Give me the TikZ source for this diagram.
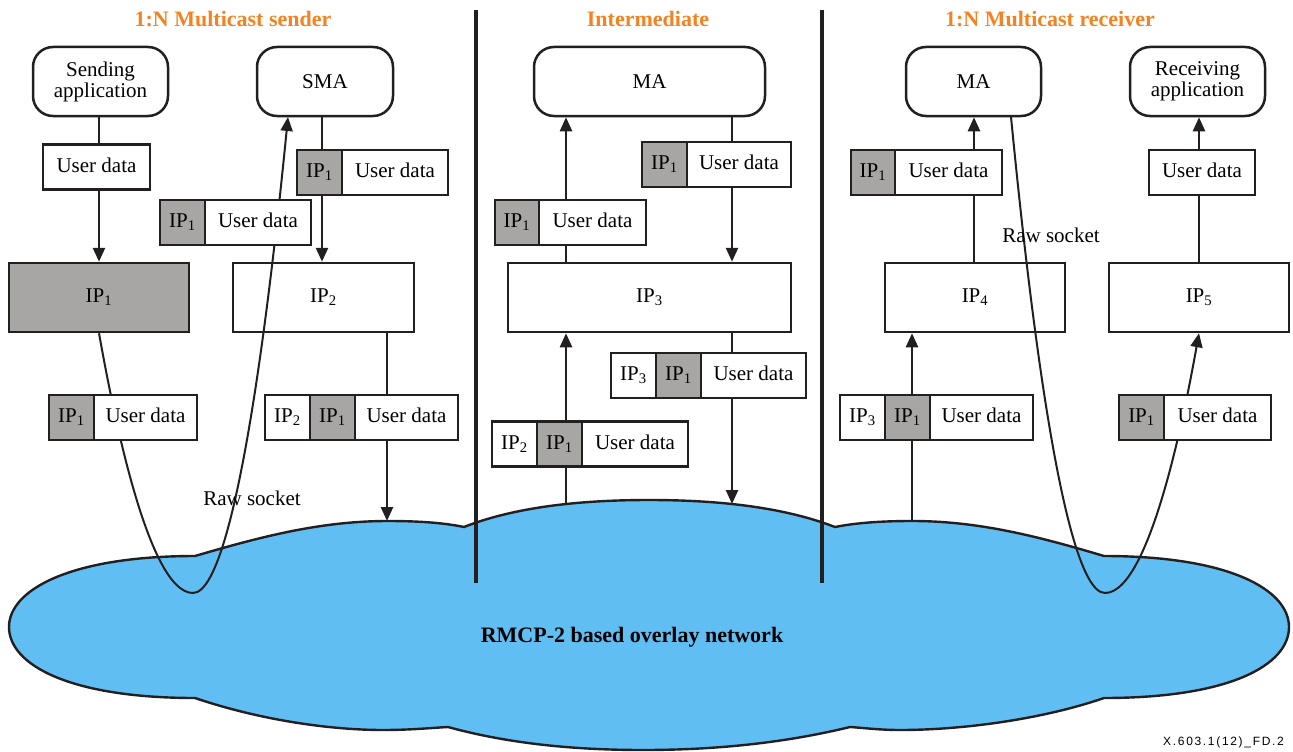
\documentclass[tikz,border=0pt]{standalone}
\usepackage{fontspec}
\setmainfont{Liberation Serif}
\newfontfamily\footfont[LetterSpace=14]{Liberation Sans}
\usetikzlibrary{arrows.meta}
\definecolor{lc}{RGB}{35,31,32}
\definecolor{cg}{RGB}{167,166,164}
\definecolor{cloudc}{RGB}{96,190,242}
\definecolor{orng}{RGB}{245,130,32}
\tikzset{
  ln/.style={draw=lc, line width=2.5pt},
  rbox/.style={ln, rounded corners=20pt, minimum height=69pt, fill=white, align=center, inner sep=0pt, font=\fontsize{21}{23}\selectfont},
  bbox/.style={ln, minimum height=69pt, fill=white, inner sep=0pt, font=\fontsize{21}{23}\selectfont},
  cellw/.style={ln, fill=white, minimum height=45pt, inner sep=0pt, outer sep=0pt, text height=14pt, text depth=4pt, anchor=west, font=\fontsize{21}{23}\selectfont},
  cellg/.style={cellw, fill=cg},
  arr/.style={ln, -{Triangle[length=14pt,width=12pt]}},
  rawc/.style={draw=lc, line width=2pt},
  rawca/.style={rawc, -{Triangle[length=14pt,width=12pt]}},
  ttl/.style={text=orng, font=\bfseries\fontsize{22}{24}\selectfont},
  lbl/.style={font=\fontsize{21}{23}\selectfont, inner sep=0pt},
  sep/.style={draw=lc, line width=4.5pt},
}
\begin{document}
\begin{tikzpicture}[x=1pt,y=-1pt]
\useasboundingbox (0,0) rectangle (1293,752);
% cloud
\draw[ln, fill=cloudc, line width=2.4pt]
 (195,556) .. controls (260,537) and (320,521) .. (388,521) .. controls (420,521) and (445,523) .. (464,527)
 .. controls (520,505) and (590,500) .. (649,500) .. controls (708,500) and (778,505) .. (835,527)
 .. controls (855,523) and (880,521) .. (912,521) .. controls (980,521) and (1040,537) .. (1104,556)
 .. controls (1230,556) and (1289,590) .. (1289,627) .. controls (1289,665) and (1230,698) .. (1104,698)
 .. controls (1040,720) and (960,730) .. (900,730) .. controls (880,730) and (865,728) .. (850,727)
 .. controls (780,744) and (710,750) .. (643,750) .. controls (576,750) and (510,744) .. (448,727)
 .. controls (430,728) and (410,730) .. (383,730) .. controls (330,730) and (260,720) .. (195,698)
 .. controls (70,698) and (9,665) .. (9,627) .. controls (9,590) and (70,556) .. (195,556) -- cycle;
\node[font=\bfseries\fontsize{22}{24}\selectfont] (net) at (632,637) {RMCP-2 based overlay network};

% separators
\coordinate (s1t) at (476,10); \coordinate (s1b) at (476,583);
\coordinate (s2t) at (822,10); \coordinate (s2b) at (822,583);
\draw[sep] (s1t) -- (s1b);
\draw[sep] (s2t) -- (s2b);

% titles
\node[ttl] (t1) at (233,19) {1:N Multicast sender};
\node[ttl] (t2) at (648,19) {Intermediate};
\node[ttl] (t3) at (1050,19) {1:N Multicast receiver};

% rounded boxes
\node[rbox, minimum width=135pt] (sapp) at (100.5,81.5) {Sending\\[-2pt]application};
\node[rbox, minimum width=136pt] (sma) at (325,81.5) {SMA};
\node[rbox, minimum width=231pt] (ma1) at (649.5,81.5) {MA};
\node[rbox, minimum width=135pt] (ma2) at (973.5,81.5) {MA};
\node[rbox, minimum width=135pt] (rapp) at (1197.5,81.5) {Receiving\\[-2pt]application};

% IP boxes
\node[bbox, minimum width=180pt, fill=cg] (ip1box) at (99,297.5) {IP\textsubscript{1}};
\node[bbox, minimum width=181pt] (ip2box) at (323.5,297.5) {IP\textsubscript{2}};
\node[bbox, minimum width=283pt] (ip3box) at (649.5,297.5) {IP\textsubscript{3}};
\node[bbox, minimum width=180pt] (ip4box) at (975,297.5) {IP\textsubscript{4}};
\node[bbox, minimum width=180pt] (ip5box) at (1199,297.5) {IP\textsubscript{5}};

% helper coordinates
\coordinate (xa) at (99,0);
\coordinate (xb) at (322,0);
\coordinate (xc) at (387,0);
\coordinate (cc1) at (387,521);
\coordinate (xd) at (566,0);
\coordinate (cc2) at (566,504);
\coordinate (xe) at (732,0);
\coordinate (cc3) at (732,504);
\coordinate (xf) at (912,0);
\coordinate (cc4) at (912,521);
\coordinate (xg) at (974,0);
\coordinate (xh) at (1199,0);
\coordinate (rs1b) at (193,593);
\coordinate (rs1e) at (288,117);
\coordinate (rs2s) at (1011,117);
\coordinate (rs2b) at (1105,593);

% connectors
\draw[arr] (sapp.south -| xa) -- (ip1box.north -| xa);
\draw[arr] (sma.south -| xb) -- (ip2box.north -| xb);
\draw[arr] (ip2box.south -| xc) -- (cc1);
\draw[arr] (cc2) -- (ip3box.south -| xd);
\draw[arr] (ip3box.north -| xd) -- (ma1.south -| xd);
\draw[arr] (ma1.south -| xe) -- (ip3box.north -| xe);
\draw[arr] (ip3box.south -| xe) -- (cc3);
\draw[arr] (cc4) -- (ip4box.south -| xf);
\draw[arr] (ip4box.north -| xg) -- (ma2.south -| xg);
\draw[arr] (ip5box.north -| xh) -- (rapp.south -| xh);

% raw socket curves
\draw[rawca] (ip1box.south) parabola bend (rs1b) (rs1e);
\draw[rawca] (rs2s) parabola bend (rs2b) (ip5box.south);
\node[lbl] (raw1) at (252,498) {Raw socket};
\node[lbl] (raw2) at (1051,235) {Raw socket};

% packets
\node[cellw, minimum width=107pt] (ud1) at (43,167) {User data};

\node[cellg, minimum width=45pt] (pA1) at (297,172.5) {IP\textsubscript{1}};
\node[cellw, minimum width=106pt] (pA2) at (pA1.east) {User data};

\node[cellg, minimum width=45pt] (pB1) at (160,222.5) {IP\textsubscript{1}};
\node[cellw, minimum width=106pt] (pB2) at (pB1.east) {User data};

\node[cellg, minimum width=45pt] (pC1) at (49,417.5) {IP\textsubscript{1}};
\node[cellw, minimum width=103pt] (pC2) at (pC1.east) {User data};

\node[cellw, minimum width=45pt] (pD1) at (265,417.5) {IP\textsubscript{2}};
\node[cellg, minimum width=45pt] (pD2) at (pD1.east) {IP\textsubscript{1}};
\node[cellw, minimum width=103pt] (pD3) at (pD2.east) {User data};

\node[cellg, minimum width=44pt] (pE1) at (495,222.5) {IP\textsubscript{1}};
\node[cellw, minimum width=107pt] (pE2) at (pE1.east) {User data};

\node[cellg, minimum width=45pt] (pF1) at (642,164.5) {IP\textsubscript{1}};
\node[cellw, minimum width=104pt] (pF2) at (pF1.east) {User data};

\node[cellw, minimum width=45pt] (pG1) at (492,444) {IP\textsubscript{2}};
\node[cellg, minimum width=45pt] (pG2) at (pG1.east) {IP\textsubscript{1}};
\node[cellw, minimum width=106pt] (pG3) at (pG2.east) {User data};

\node[cellw, minimum width=45pt] (pH1) at (611,375.5) {IP\textsubscript{3}};
\node[cellg, minimum width=45pt] (pH2) at (pH1.east) {IP\textsubscript{1}};
\node[cellw, minimum width=105pt] (pH3) at (pH2.east) {User data};

\node[cellg, minimum width=44pt] (pI1) at (851,172.5) {IP\textsubscript{1}};
\node[cellw, minimum width=107pt] (pI2) at (pI1.east) {User data};

\node[cellw, minimum width=45pt] (pJ1) at (840,417.5) {IP\textsubscript{3}};
\node[cellg, minimum width=45pt] (pJ2) at (pJ1.east) {IP\textsubscript{1}};
\node[cellw, minimum width=103pt] (pJ3) at (pJ2.east) {User data};

\node[cellw, minimum width=106pt] (ud2) at (1149,172.5) {User data};

\node[cellg, minimum width=45pt] (pK1) at (1119,417.5) {IP\textsubscript{1}};
\node[cellw, minimum width=107pt] (pK2) at (pK1.east) {User data};

% footer
\node[font=\footfont\fontsize{12}{14}\selectfont, anchor=east, inner sep=0pt] (foot) at (1284,742) {X.603.1(12)\_FD.2};
\end{tikzpicture}
\end{document}
